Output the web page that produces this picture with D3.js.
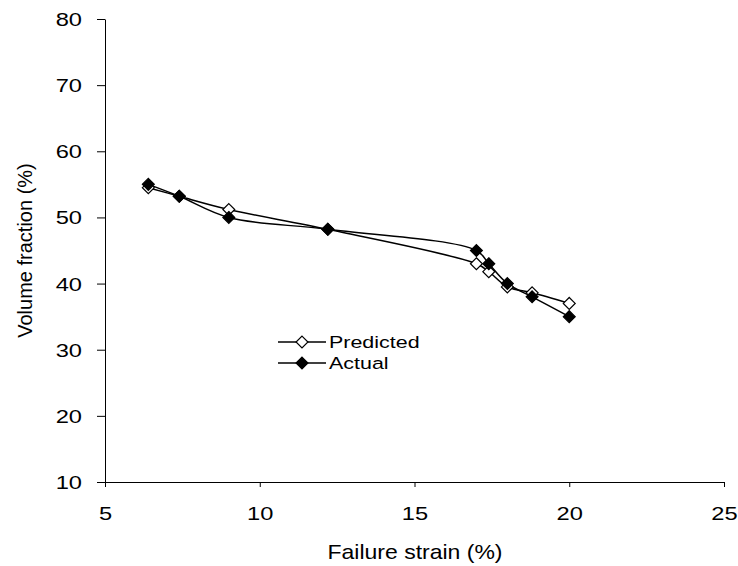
<!DOCTYPE html>
<html>
<head>
<meta charset="utf-8">
<script src="https://cdn.jsdelivr.net/npm/d3@7"></script>
<style>
  body { margin: 0; background: #fff; }
  svg { font-family: "Liberation Sans", Arial, sans-serif; }
</style>
</head>
<body>
<div id="chart"></div>
<script>
// failure strain (%) for each specimen
const strain = [6.4, 7.4, 9.0, 12.2, 17.0, 17.4, 18.0, 18.8, 20.0];
const predicted = [54.5, 53.2, 51.2, 48.2, 43.0, 41.8, 39.5, 38.6, 37.0];
const actual = [55.0, 53.2, 50.0, 48.2, 45.0, 43.0, 40.0, 38.0, 35.0];
const xTicks = [5, 10, 15, 20, 25];
const yTicks = [10, 20, 30, 40, 50, 60, 70, 80];

const width = 738, height = 566;
const margin = { top: 19, right: 14, bottom: 84, left: 105 };
const stretch = 1.28; // text in the reference is a bit wide

const svg = d3.select('#chart').append('svg')
  .attr('width', width)
  .attr('height', height);

const x = d3.scaleLinear().domain([5, 25]).range([margin.left, width - margin.right]);
const y = d3.scaleLinear().domain([10, 80]).range([482, margin.top]);

// axes
const xAxis = svg.append('g')
  .attr('transform', `translate(0,${y(10)})`)
  .call(d3.axisBottom(x).tickValues(xTicks).tickSize(5).tickSizeOuter(0));
const yAxis = svg.append('g')
  .attr('transform', `translate(${x(5)},0)`)
  .call(d3.axisLeft(y).tickValues(yTicks).tickSize(8).tickSizeOuter(0));

[xAxis, yAxis].forEach(a => {
  a.select('.domain').attr('stroke', '#000');
  a.selectAll('.tick line').attr('stroke', '#000');
  a.selectAll('.tick text')
    .attr('fill', '#000')
    .attr('font-size', 18.5)
    .attr('font-family', '"Liberation Sans", Arial, sans-serif');
});
xAxis.selectAll('.tick text')
  .attr('y', 0).attr('dy', 0)
  .attr('transform', `translate(0,38) scale(${stretch},1)`);
yAxis.selectAll('.tick text')
  .attr('x', 0).attr('dy', '0.35em')
  .attr('transform', `translate(-23,0) scale(${stretch},1)`);

svg.append('text')
  .attr('transform', `translate(415,559) scale(1.15,1)`)
  .attr('text-anchor', 'middle')
  .attr('font-size', 20)
  .text('Failure strain (%)');

svg.append('text')
  .attr('transform', `translate(32,${(y(10) + y(80)) / 2}) rotate(-90)`)
  .attr('text-anchor', 'middle')
  .attr('font-size', 20)
  .text('Volume fraction (%)');

// series
const series = [
  { name: 'Predicted', values: predicted, fill: '#fff' },
  { name: 'Actual', values: actual, fill: '#000' }
];

const line = d3.line()
  .x(d => x(d[0]))
  .y(d => y(d[1]))
  .curve(d3.curveCatmullRom.alpha(0.5));

const diamond = d3.symbol().type(d3.symbolDiamond2).size(90);

series.forEach(s => {
  const pts = strain.map((v, i) => [v, s.values[i]]);
  svg.append('path')
    .datum(pts)
    .attr('d', line)
    .attr('fill', 'none')
    .attr('stroke', '#000')
    .attr('stroke-width', 1.5);
});

series.forEach(s => {
  const pts = strain.map((v, i) => [v, s.values[i]]);
  svg.selectAll(null)
    .data(pts)
    .join('path')
    .attr('d', diamond)
    .attr('transform', d => `translate(${x(d[0])},${y(d[1])})`)
    .attr('fill', s.fill)
    .attr('stroke', '#000')
    .attr('stroke-width', 1.2);
});

// legend
const legend = svg.append('g').attr('transform', 'translate(278,342)');
series.forEach((s, i) => {
  const g = legend.append('g').attr('transform', `translate(0,${i * 21})`);
  g.append('line')
    .attr('x1', 0).attr('x2', 48)
    .attr('stroke', '#000')
    .attr('stroke-width', 1.5);
  g.append('path')
    .attr('d', diamond)
    .attr('transform', 'translate(24,0)')
    .attr('fill', s.fill)
    .attr('stroke', '#000')
    .attr('stroke-width', 1.2);
  g.append('text')
    .attr('transform', 'translate(51,0) scale(1.3,1)')
    .attr('dy', '0.35em')
    .attr('font-size', 16.5)
    .text(s.name);
});
</script>
</body>
</html>
